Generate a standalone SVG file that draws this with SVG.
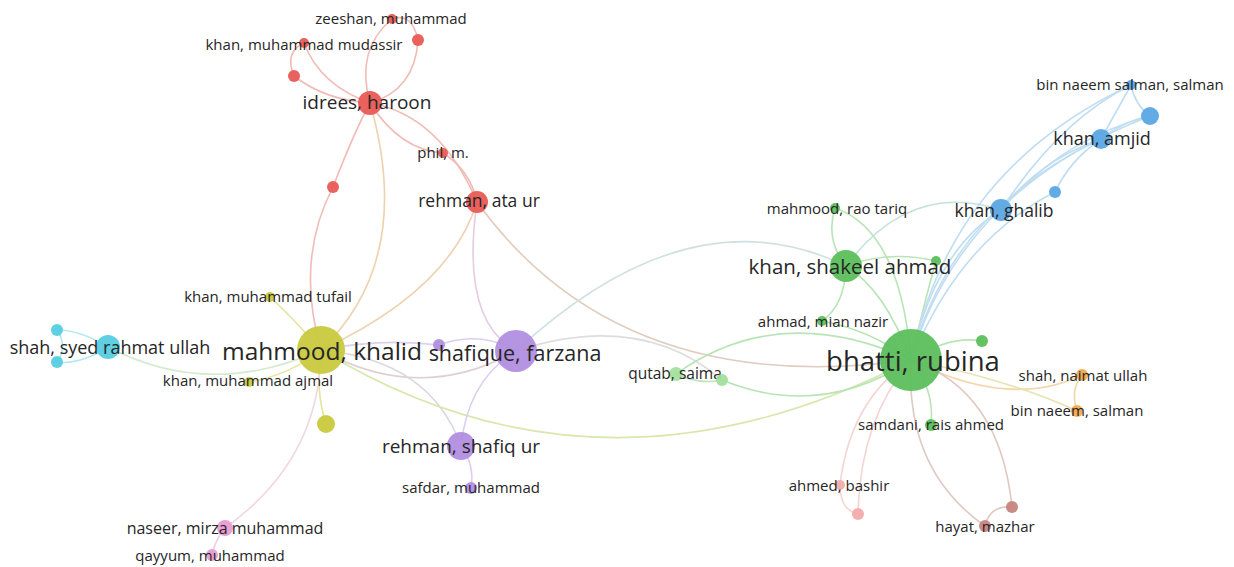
<svg xmlns="http://www.w3.org/2000/svg" width="1234" height="567" viewBox="0 0 1234 567">
<style>
text{font-family:"Open Sans","Noto Sans","DejaVu Sans",sans-serif;fill:#262626;text-anchor:middle;dominant-baseline:central}
.s{font-size:15px}
.e{fill:none;stroke-linecap:round;stroke-width:1.6}
.re{stroke:#efb0aa}
.ye{stroke:#e0e08e}
.pe{stroke:#d8c6ef}
.ge{stroke:#ace0aa}
.be{stroke:#b6d8f0}
.ce{stroke:#a6e6ef}
.oe{stroke:#f4cf9c}
.ke{stroke:#f0c2e4}
.le{stroke:#f2cfcc}
.we{stroke:#dcc0b8}
.r{fill:#e85a55}
.y{fill:#c9c93e}
.p{fill:#b18ee0}
.g{fill:#5cbf5c}
.lg{fill:#a2df9e}
.b{fill:#5ba6e4}
.c{fill:#55cde0}
.k{fill:#e79bd3}
.o{fill:#f2a64c}
.lp{fill:#f4abab}
.w{fill:#c6857f}
circle{fill-opacity:0.95}
</style>
<rect width="1234" height="567" fill="#ffffff"/>
<g id="connectors" opacity="0.85">
<path class="e re" d="M370 103 Q355 50 392 19"/>
<path class="e re" d="M370 103 Q415 90 418 40"/>
<path class="e re" d="M392 19 Q412 12 418 40"/>
<path class="e re" d="M370 103 Q320 85 304 43"/>
<path class="e re" d="M304 43 Q284 52 294 76"/>
<path class="e re" d="M294 76 Q325 100 370 103"/>
<path class="e re" d="M370 103 Q400 150 443 153"/>
<path class="e re" d="M370 103 Q440 115 477 202"/>
<path class="e re" d="M443 153 Q470 170 477 202"/>
<path class="e re" d="M370 103 Q355 130 333 187"/>
<path class="e re" d="M333 187 Q295 260 321 350"/>
<path class="e" stroke="#eccaa0" d="M370 103 Q415 260 321 350"/>
<path class="e" stroke="#eccaa0" d="M477 202 Q450 290 321 350"/>
<path class="e" stroke="#e2c2dc" d="M477 202 Q460 320 516 351"/>
<path class="e" stroke="#dcc4b4" d="M477 202 Q620 400 911 360"/>
<path class="e ye" d="M321 350 Q290 315 270 297"/>
<path class="e ye" d="M321 350 Q290 375 249 382"/>
<path class="e ye" d="M321 350 Q315 390 326 424"/>
<path class="e" stroke="#eed0d8" d="M321 350 Q320 460 225 528"/>
<path class="e" stroke="#c9e8c4" d="M321 350 Q210 400 108 347"/>
<path class="e" stroke="#dcc6cc" stroke-width="4" d="M321 350 Q420 405 516 351"/>
<path class="e" stroke="#d8d0d8" d="M321 350 Q430 360 461 446"/>
<path class="e" stroke="#d0e49e" d="M321 350 Q600 520 911 360"/>
<path class="e pe" d="M321 350 Q380 338 439 345"/>
<path class="e pe" d="M439 345 Q480 330 516 351"/>
<path class="e pe" d="M516 351 Q468 380 461 446"/>
<path class="e pe" d="M461 446 Q475 465 471 488"/>
<path class="e" stroke="#c8dcdc" d="M516 351 Q690 190 846 266"/>
<path class="e" stroke="#d8d8d8" d="M516 351 Q640 310 722 380"/>
<path class="e ge" d="M676 374 Q780 300 911 360"/>
<path class="e ge" d="M722 380 Q820 420 911 360"/>
<path class="e ge" d="M676 374 Q700 385 722 380"/>
<path class="e ge" stroke-width="3.5" d="M846 266 Q885 290 911 360"/>
<path class="e ge" d="M835 208 Q900 230 911 360"/>
<path class="e ge" d="M835 208 Q825 240 846 266"/>
<path class="e ge" d="M846 266 Q845 305 822 321"/>
<path class="e ge" d="M822 321 Q870 330 911 360"/>
<path class="e ge" d="M846 266 Q890 250 936 261"/>
<path class="e ge" d="M936 261 Q925 300 911 360"/>
<path class="e ge" d="M911 360 Q950 335 982 341"/>
<path class="e ge" d="M911 360 Q935 390 931 425"/>
<path class="e" stroke="#bcdcd8" d="M846 266 Q910 180 1001 210"/>
<path class="e be" d="M911 360 Q935 250 1001 210"/>
<path class="e be" d="M911 360 Q950 210 1101 139"/>
<path class="e be" d="M911 360 Q960 190 1150 116"/>
<path class="e be" d="M911 360 Q950 170 1131 85"/>
<path class="e be" d="M911 360 Q960 240 1055 192"/>
<path class="e be" d="M1001 210 Q1040 160 1101 139"/>
<path class="e be" d="M1001 210 Q1060 140 1150 116"/>
<path class="e be" d="M1001 210 Q1060 120 1131 85"/>
<path class="e be" d="M1101 139 Q1125 120 1150 116"/>
<path class="e be" d="M1101 139 Q1120 105 1131 85"/>
<path class="e be" d="M1150 116 Q1135 105 1131 85"/>
<path class="e be" d="M1055 192 Q1070 160 1101 139"/>
<path class="e oe" d="M911 360 Q1010 410 1082 375"/>
<path class="e" stroke="#e2e0a8" d="M911 360 Q1010 380 1077 411"/>
<path class="e oe" d="M1082 375 Q1070 390 1077 411"/>
<path class="e le" d="M911 360 Q850 400 840 485"/>
<path class="e le" d="M911 360 Q860 420 858 514"/>
<path class="e le" d="M840 485 Q840 510 858 514"/>
<path class="e we" d="M911 360 Q905 470 985 526"/>
<path class="e we" d="M911 360 Q1000 390 1012 507"/>
<path class="e we" d="M985 526 Q990 505 1012 507"/>
<path class="e ce" d="M108 347 Q80 330 57 330"/>
<path class="e ce" d="M108 347 Q80 365 57 362"/>
<path class="e ce" d="M57 330 Q68 346 57 362"/>
<path class="e ke" d="M225 528 Q215 540 212 555"/>
</g>
<g id="n-zeeshan"><circle class="r" cx="392" cy="19" r="5"/><text class="s" x="391" y="18">zeeshan, muhammad</text></g>
<g id="n-red1"><circle class="r" cx="418" cy="40" r="6"/></g>
<g id="n-mudassir"><circle class="r" cx="304" cy="43" r="5"/><text class="s" x="304" y="44">khan, muhammad mudassir</text></g>
<g id="n-red2"><circle class="r" cx="294" cy="76" r="6"/></g>
<g id="n-phil"><circle class="r" cx="443" cy="153" r="5"/><text class="s" x="443" y="152">phil, m.</text></g>
<g id="n-red3"><circle class="r" cx="333" cy="187" r="6"/></g>
<g id="n-idrees"><circle class="r" cx="370" cy="103" r="12"/><text x="367" y="102" font-size="19">idrees, haroon</text></g>
<g id="n-rehman-ata"><circle class="r" cx="477" cy="202" r="11"/><text x="479" y="200" font-size="17.5">rehman, ata ur</text></g>
<g id="n-cyan1"><circle class="c" cx="57" cy="330" r="6"/></g>
<g id="n-cyan2"><circle class="c" cx="57" cy="362" r="6"/></g>
<g id="n-shah-syed"><circle class="c" cx="108" cy="347" r="12"/><text x="110" y="347" font-size="18">shah, syed rahmat ullah</text></g>
<g id="n-tufail"><circle class="y" cx="270" cy="297" r="5"/><text class="s" x="268" y="296">khan, muhammad tufail</text></g>
<g id="n-yellow1"><circle class="y" cx="326" cy="424" r="9"/></g>
<g id="n-mahmood"><circle class="y" cx="321" cy="350" r="24"/><text x="322" y="350" font-size="24.5">mahmood, khalid</text></g>
<g id="n-ajmal"><circle class="y" cx="249" cy="382" r="5"/><text class="s" x="248" y="380">khan, muhammad ajmal</text></g>
<g id="n-purple1"><circle class="p" cx="439" cy="345" r="6"/></g>
<g id="n-shafique"><circle class="p" cx="516" cy="351" r="21"/><text x="515" y="352" font-size="21.5">shafique, farzana</text></g>
<g id="n-safdar"><circle class="p" cx="471" cy="488" r="6"/><text class="s" x="471" y="487">safdar, muhammad</text></g>
<g id="n-rehman-shafiq"><circle class="p" cx="461" cy="446" r="14"/><text x="461" y="446" font-size="19">rehman, shafiq ur</text></g>
<g id="n-naseer"><circle class="k" cx="225" cy="528" r="8"/><text x="225" y="528" font-size="16">naseer, mirza muhammad</text></g>
<g id="n-qayyum"><circle class="k" cx="212" cy="555" r="6"/><text class="s" x="210" y="555">qayyum, muhammad</text></g>
<g id="n-qutab"><circle class="lg" cx="676" cy="374" r="7"/><text x="675" y="373" font-size="15.5">qutab, saima</text></g>
<g id="n-green-q"><circle class="lg" cx="722" cy="380" r="6"/></g>
<g id="n-rao-tariq"><circle class="g" cx="835" cy="208" r="5"/><text class="s" x="837" y="208">mahmood, rao tariq</text></g>
<g id="n-green1"><circle class="g" cx="936" cy="261" r="5"/></g>
<g id="n-shakeel"><circle class="g" cx="846" cy="266" r="16"/><text x="850" y="266" font-size="20.5">khan, shakeel ahmad</text></g>
<g id="n-mian-nazir"><circle class="g" cx="822" cy="321" r="5"/><text class="s" x="823" y="321">ahmad, mian nazir</text></g>
<g id="n-green2"><circle class="g" cx="982" cy="341" r="6"/></g>
<g id="n-samdani"><circle class="g" cx="931" cy="425" r="6"/><text class="s" x="931" y="424">samdani, rais ahmed</text></g>
<g id="n-bhatti"><circle class="g" cx="911" cy="360" r="31"/><text x="913" y="360" font-size="27.5">bhatti, rubina</text></g>
<g id="n-blue1"><circle class="b" cx="1150" cy="116" r="9"/></g>
<g id="n-bnss"><circle class="b" cx="1131" cy="85" r="5"/><text class="s" x="1130" y="84">bin naeem salman, salman</text></g>
<g id="n-amjid"><circle class="b" cx="1101" cy="139" r="10"/><text x="1102" y="138" font-size="18">khan, amjid</text></g>
<g id="n-blue2"><circle class="b" cx="1055" cy="192" r="6"/></g>
<g id="n-ghalib"><circle class="b" cx="1001" cy="210" r="11"/><text x="1004" y="210" font-size="17.5">khan, ghalib</text></g>
<g id="n-naimat"><circle class="o" cx="1082" cy="375" r="6"/><text class="s" x="1083" y="375">shah, naimat ullah</text></g>
<g id="n-bin-naeem"><circle class="o" cx="1077" cy="411" r="6"/><text class="s" x="1077" y="410">bin naeem, salman</text></g>
<g id="n-lp1"><circle class="lp" cx="858" cy="514" r="6"/></g>
<g id="n-bashir"><circle class="lp" cx="840" cy="485" r="5"/><text class="s" x="839" y="485">ahmed, bashir</text></g>
<g id="n-brown1"><circle class="w" cx="1012" cy="507" r="6"/></g>
<g id="n-hayat"><circle class="w" cx="985" cy="526" r="6"/><text class="s" x="985" y="526">hayat, mazhar</text></g>
</svg>
